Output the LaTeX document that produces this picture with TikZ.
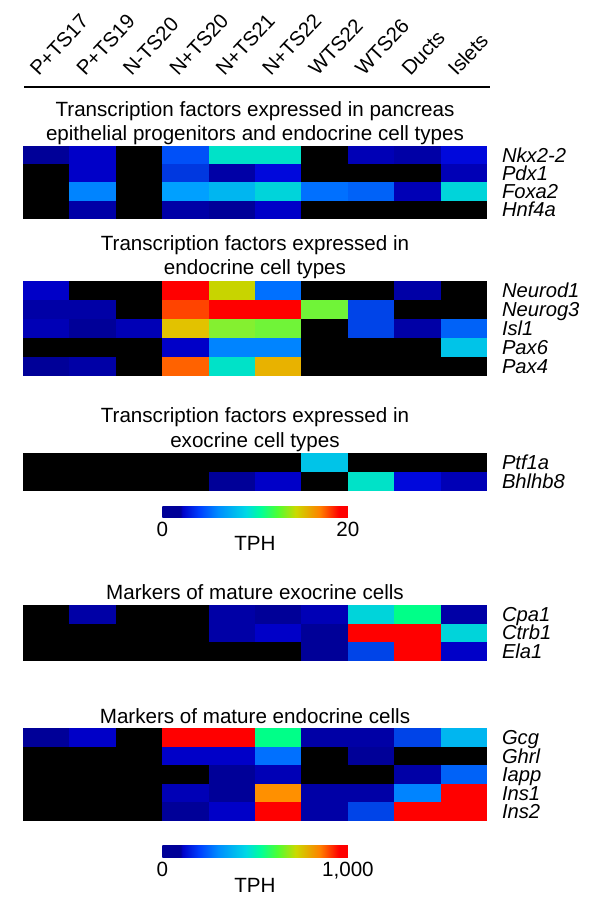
\documentclass[tikz,border=0pt]{standalone}
\usepackage{fontspec}
\setmainfont{Liberation Sans}
\definecolor{K}{HTML}{000000}
\definecolor{n9}{HTML}{000098}
\definecolor{nA}{HTML}{0000A6}
\definecolor{nB}{HTML}{0000B6}
\definecolor{nC}{HTML}{0000C8}
\definecolor{nD}{HTML}{0008DC}
\definecolor{b3}{HTML}{0038E0}
\definecolor{b4}{HTML}{0044E8}
\definecolor{b5}{HTML}{0050F8}
\definecolor{b6}{HTML}{0062F8}
\definecolor{b7}{HTML}{0070FF}
\definecolor{b8}{HTML}{0084FF}
\definecolor{bA}{HTML}{00A0FF}
\definecolor{bB}{HTML}{00B6F0}
\definecolor{bC}{HTML}{00C4E8}
\definecolor{tD}{HTML}{00D4DA}
\definecolor{tE}{HTML}{00E2C8}
\definecolor{sg}{HTML}{00FF88}
\definecolor{g1}{HTML}{70F438}
\definecolor{g2}{HTML}{84F030}
\definecolor{yl}{HTML}{C8D400}
\definecolor{gd}{HTML}{E2C200}
\definecolor{gy}{HTML}{E8B200}
\definecolor{oA}{HTML}{FF9000}
\definecolor{o6}{HTML}{FF6200}
\definecolor{o4}{HTML}{FF4400}
\definecolor{rd}{HTML}{FF0000}
\definecolor{j1}{rgb}{0,0.25,1}
\definecolor{j2}{rgb}{0,0.55,1}
\definecolor{j3}{rgb}{0,0.85,0.9}
\definecolor{j4}{rgb}{0,1,0.6}
\definecolor{j5}{rgb}{0.3,1,0.2}
\definecolor{j6}{rgb}{0.8,0.85,0}
\definecolor{j7}{rgb}{1,0.5,0}
\pgfdeclarehorizontalshading{jetbar}{100bp}{%
  color(0bp)=(n9); color(25bp)=(n9); color(30bp)=(n9);
  color(30.3bp)=(nC); color(35bp)=(j1); color(40bp)=(j2);
  color(47.5bp)=(j3); color(51.5bp)=(j4); color(56bp)=(j5);
  color(61bp)=(j6); color(67.5bp)=(j7); color(72.5bp)=(rd);
  color(75bp)=(rd); color(100bp)=(rd)}
% heat-map row: top y, row height, row index, ten colours
\newcommand\hmrow[4]{%
  \foreach \c [count=\i from 0] in {#4}{%
    \fill[fill=\c] ({22.7+\i*46.45},{#1+#3*#2}) rectangle ({22.7+(\i+1)*46.45},{#1+(#3+1)*#2});}}
\begin{document}
\begin{tikzpicture}[x=1pt,y=-1pt,
  every node/.style={inner sep=0pt,outer sep=0pt,font=\fontsize{20.6}{24}\selectfont},
  title/.style={anchor=base},
  gene/.style={anchor=base west,font=\fontsize{20.2}{24}\selectfont\itshape},
  sample/.style={anchor=base west,rotate=47,font=\fontsize{20.4}{24}\selectfont},
  tick/.style={anchor=base}]
\useasboundingbox (0,0) rectangle (600,909);
% column labels
\foreach \s [count=\i from 0] in {P+TS17,P+TS19,N-TS20,N+TS20,N+TS21,N+TS22,WTS22,WTS26,Ducts,Islets}{
  \node[sample] (col\i) at ({22.7+(\i+0.5)*46.45-7},77) {\s};}
\coordinate (ruleL) at (24,87.3);
\coordinate (ruleR) at (490,87.3);
\draw[line width=2pt] (ruleL) -- (ruleR);
% block 1
\node[title] (t1a) at (255,116.5) {Transcription factors expressed in pancreas};
\node[title] (t1b) at (255,140.5) {epithelial progenitors and endocrine cell types};
\hmrow{146}{18.2}{0}{n9,nC,K,b5,tE,tE,K,nB,nA,nD}
\hmrow{146}{18.2}{1}{K,nC,K,b3,nA,nD,K,K,K,nB}
\hmrow{146}{18.2}{2}{K,b8,K,bA,bB,tD,b7,b6,nB,tD}
\hmrow{146}{18.2}{3}{K,nA,K,nA,n9,nC,K,K,K,K}
\node[gene] (g11) at (502,{146+0.5*18.2+7.1}) {Nkx2-2};
\node[gene] (g12) at (502,{146+1.5*18.2+7.1}) {Pdx1};
\node[gene] (g13) at (502,{146+2.5*18.2+7.1}) {Foxa2};
\node[gene] (g14) at (502,{146+3.5*18.2+7.1}) {Hnf4a};
% block 2
\node[title] (t2a) at (255,251) {Transcription factors expressed in};
\node[title] (t2b) at (255,274.5) {endocrine cell types};
\hmrow{280.7}{19}{0}{nC,K,K,rd,yl,b7,K,K,nA,K}
\hmrow{280.7}{19}{1}{nA,nA,K,o4,rd,rd,g1,b4,K,K}
\hmrow{280.7}{19}{2}{nB,n9,nB,gd,g2,g1,K,b4,nA,b6}
\hmrow{280.7}{19}{3}{K,K,K,nC,b8,b8,K,K,K,bC}
\hmrow{280.7}{19}{4}{n9,nA,K,o6,tE,gy,K,K,K,K}
\node[gene] (g21) at (502,{280.7+0.5*19+7.1}) {Neurod1};
\node[gene] (g22) at (502,{280.7+1.5*19+7.1}) {Neurog3};
\node[gene] (g23) at (502,{280.7+2.5*19+7.1}) {Isl1};
\node[gene] (g24) at (502,{280.7+3.5*19+7.1}) {Pax6};
\node[gene] (g25) at (502,{280.7+4.5*19+7.1}) {Pax4};
% block 3
\node[title] (t3a) at (255,422.7) {Transcription factors expressed in};
\node[title] (t3b) at (255,447) {exocrine cell types};
\hmrow{453.3}{18.85}{0}{K,K,K,K,K,K,bC,K,K,K}
\hmrow{453.3}{18.85}{1}{K,K,K,K,n9,nC,K,tE,nD,nB}
\node[gene] (g31) at (502,{453.3+0.5*18.85+7.1}) {Ptf1a};
\node[gene] (g32) at (502,{453.3+1.5*18.85+7.1}) {Bhlhb8};
% colour bar 1
\shade[shading=jetbar] (162.3,506) rectangle (347.9,517.3);
\node[tick] (z1) at (162.3,536.7) {0};
\node[tick] (m1) at (347.9,536.7) {20};
\node[tick] (u1) at (255,550) {TPH};
% block 4
\node[title] (t4) at (255,599) {Markers of mature exocrine cells};
\hmrow{605}{18.57}{0}{K,nA,K,K,nA,n9,nB,tD,sg,nA}
\hmrow{605}{18.57}{1}{K,K,K,K,nA,nC,n9,rd,rd,tD}
\hmrow{605}{18.57}{2}{K,K,K,K,K,K,n9,b4,rd,nC}
\node[gene] (g41) at (502,{605+0.5*18.57+7.1}) {Cpa1};
\node[gene] (g42) at (502,{605+1.5*18.57+7.1}) {Ctrb1};
\node[gene] (g43) at (502,{605+2.5*18.57+7.1}) {Ela1};
% block 5
\node[title] (t5) at (255,723.3) {Markers of mature endocrine cells};
\hmrow{728.3}{18.48}{0}{n9,nC,K,rd,rd,sg,nA,nA,b4,bB}
\hmrow{728.3}{18.48}{1}{K,K,K,nC,nC,b7,K,n9,K,K}
\hmrow{728.3}{18.48}{2}{K,K,K,K,n9,nB,K,K,nA,b6}
\hmrow{728.3}{18.48}{3}{K,K,K,nB,n9,oA,nA,nA,b8,rd}
\hmrow{728.3}{18.48}{4}{K,K,K,n9,nC,rd,nA,b4,rd,rd}
\node[gene] (g51) at (502,{728.3+0.5*18.48+7.1}) {Gcg};
\node[gene] (g52) at (502,{728.3+1.5*18.48+7.1}) {Ghrl};
\node[gene] (g53) at (502,{728.3+2.5*18.48+7.1}) {Iapp};
\node[gene] (g54) at (502,{728.3+3.5*18.48+7.1}) {Ins1};
\node[gene] (g55) at (502,{728.3+4.5*18.48+7.1}) {Ins2};
% colour bar 2
\shade[shading=jetbar] (162.3,845.7) rectangle (347.9,857.3);
\node[tick] (z2) at (162.3,876.7) {0};
\node[tick] (m2) at (347.9,876.7) {1,000};
\node[tick] (u2) at (255,892.7) {TPH};
\end{tikzpicture}
\end{document}
